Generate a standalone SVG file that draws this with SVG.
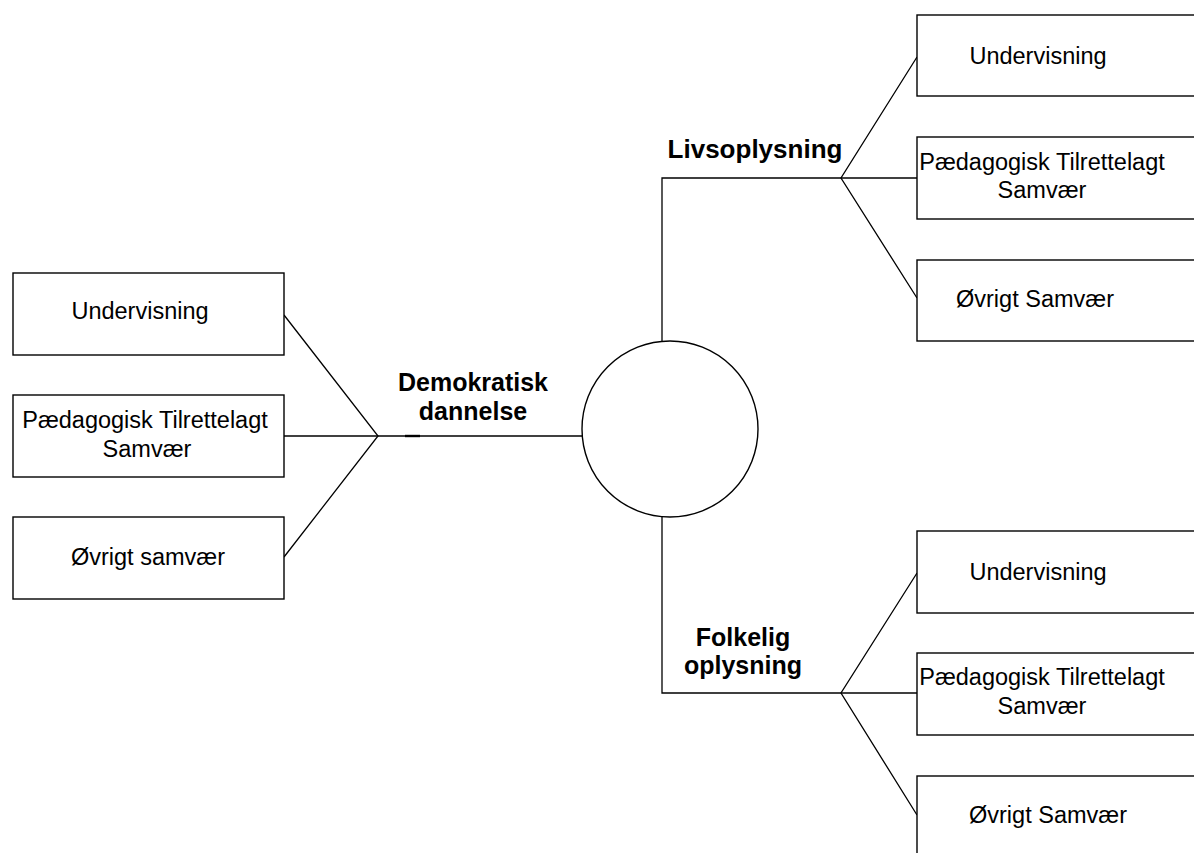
<svg xmlns="http://www.w3.org/2000/svg" width="1194" height="853" viewBox="0 0 1194 853">
<style>
.box{fill:#fff;stroke:#000;stroke-width:1.4}
.ln{fill:none;stroke:#000;stroke-width:1.3}
.t{font-family:"Liberation Sans",Arial,sans-serif;font-size:23.5px;fill:#000;text-anchor:middle}
.b{font-family:"Liberation Sans",Arial,sans-serif;font-size:25px;font-weight:bold;fill:#000;text-anchor:middle}
</style>
<rect width="1194" height="853" fill="#fff"/>
<g id="connectors">
<polyline class="ln" points="284,315 378,436 284,557"/>
<line class="ln" x1="284" y1="436" x2="582" y2="436"/>
<line x1="405" y1="436" x2="420" y2="436" stroke="#000" stroke-width="2.4"/>
<polyline class="ln" points="662,341 662,178 841,178"/>
<polyline class="ln" points="917,57 841,178 917,298"/>
<line class="ln" x1="841" y1="178" x2="917" y2="178"/>
<polyline class="ln" points="662,517 662,693 841,693"/>
<polyline class="ln" points="917,573 841,693 917,815"/>
<line class="ln" x1="841" y1="693" x2="917" y2="693"/>
</g>
<g id="center"><circle class="box" cx="670" cy="429" r="88"/></g>
<g id="l1"><rect class="box" x="13" y="273" width="271" height="82"/><text class="t" x="140" y="319">Undervisning</text></g>
<g id="l2"><rect class="box" x="13" y="395" width="271" height="82"/><text class="t" x="145" y="428">Pædagogisk Tilrettelagt</text><text class="t" x="147" y="457">Samvær</text></g>
<g id="l3"><rect class="box" x="13" y="517" width="271" height="82"/><text class="t" x="148" y="565">Øvrigt samvær</text></g>
<g id="lbl-demo"><text class="b" x="473" y="391">Demokratisk</text><text class="b" x="473" y="420">dannelse</text></g>
<g id="lbl-livs"><text class="b" x="755" y="158" style="font-size:26px">Livsoplysning</text></g>
<g id="lbl-folk"><text class="b" x="743" y="646">Folkelig</text><text class="b" x="743" y="674">oplysning</text></g>
<g id="r1"><rect class="box" x="917" y="15" width="300" height="81"/><text class="t" x="1038" y="64">Undervisning</text></g>
<g id="r2"><rect class="box" x="917" y="137" width="300" height="82"/><text class="t" x="1042" y="170">Pædagogisk Tilrettelagt</text><text class="t" x="1042" y="198">Samvær</text></g>
<g id="r3"><rect class="box" x="917" y="260" width="300" height="81"/><text class="t" x="1035" y="307">Øvrigt Samvær</text></g>
<g id="r4"><rect class="box" x="917" y="531" width="300" height="82"/><text class="t" x="1038" y="580">Undervisning</text></g>
<g id="r5"><rect class="box" x="917" y="653" width="300" height="82"/><text class="t" x="1042" y="685">Pædagogisk Tilrettelagt</text><text class="t" x="1042" y="714">Samvær</text></g>
<g id="r6"><rect class="box" x="917" y="776" width="300" height="100"/><text class="t" x="1048" y="823">Øvrigt Samvær</text></g>
</svg>
